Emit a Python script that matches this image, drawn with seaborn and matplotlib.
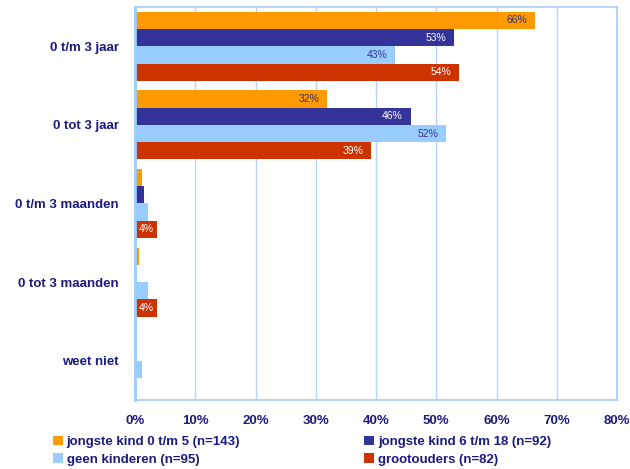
import matplotlib
matplotlib.use("Agg")
import matplotlib.pyplot as plt
import seaborn as sns
import pandas as pd

categories = ["0 t/m 3 jaar", "0 tot 3 jaar", "0 t/m 3 maanden", "0 tot 3 maanden", "weet niet"]
series_names = ["jongste kind 0 t/m 5 (n=143)", "jongste kind 6 t/m 18 (n=92)",
                "geen kinderen (n=95)", "grootouders (n=82)"]
jongste_0_5 = [66.4, 31.9, 1.2, 0.6, 0.0]
jongste_6_18 = [53.0, 45.8, 1.5, 0.0, 0.0]
geen_kinderen = [43.2, 51.7, 2.2, 2.2, 1.2]
grootouders = [53.8, 39.2, 3.6, 3.6, 0.0]
x_ticks = [0, 10, 20, 30, 40, 50, 60, 70, 80]

colors = ["#FF9900", "#333399", "#99CCFF", "#CC3300"]
label_colors = ["#333366", "#FFFFFF", "#333399", "#FFFFFF"]
navy = "#1a1a80"

sns.set_theme(style="white")
plt.rcParams["font.family"] = ["Liberation Sans", "DejaVu Sans"]

rows = []
for name, vals in zip(series_names, [jongste_0_5, jongste_6_18, geen_kinderen, grootouders]):
    for c, v in zip(categories, vals):
        rows.append({"categorie": c, "groep": name, "waarde": v})
df = pd.DataFrame(rows)

fig = plt.figure(figsize=(6.3, 4.69), dpi=100)
ax = fig.add_axes([135 / 630, 1 - 400 / 469, (617 - 135) / 630, (400 - 7) / 469])

sns.barplot(data=df, y="categorie", x="waarde", hue="groep", order=categories,
            hue_order=series_names, palette=colors, saturation=1, width=0.88,
            orient="h", ax=ax, linewidth=0, errorbar=None, gap=0, legend=True)

ax.set_xlim(0, 80)
ax.set_xticks(x_ticks)
ax.set_xticklabels([f"{t}%" for t in x_ticks])
ax.set_xlabel("")
ax.set_ylabel("")
ax.grid(axis="x", color="#b7d5f7", linewidth=1.0)
ax.grid(axis="y", visible=False)
ax.set_axisbelow(True)
for side in ["top", "right", "bottom"]:
    ax.spines[side].set_color("#a9cdf5")
    ax.spines[side].set_linewidth(1.2)
ax.spines["left"].set_color("#99CCFF")
ax.spines["left"].set_linewidth(2.0)

ax.tick_params(axis="x", length=0, pad=11, labelsize=9.5, labelcolor=navy)
ax.tick_params(axis="y", length=0, pad=11.5, labelsize=9.5, labelcolor=navy)
for lab in ax.get_xticklabels() + ax.get_yticklabels():
    lab.set_fontweight("bold")

# value labels
for cont, lc in zip(ax.containers, label_colors):
    for patch in cont:
        w = patch.get_width()
        if w < 3:
            continue
        yc = patch.get_y() + patch.get_height() / 2
        pad = 8 if w >= 10 else 2.5
        ax.annotate(f"{round(w)}%", (w, yc), xytext=(-pad, 0), textcoords="offset pixels",
                    ha="right", va="center", fontsize=7.5, color=lc)

handles, labels = ax.get_legend_handles_labels()
ax.get_legend().remove()

leg_kw = dict(frameon=False, fontsize=9.5, handlelength=0.76, handleheight=0.76,
              handletextpad=0.3, labelspacing=0.38, borderpad=0, borderaxespad=0,
              loc="center left")
l1 = fig.legend([handles[0], handles[2]], [labels[0], labels[2]],
                bbox_to_anchor=(52.7 / 630, 1 - 450.7 / 469), **leg_kw)
l2 = fig.legend([handles[1], handles[3]], [labels[1], labels[3]],
                bbox_to_anchor=(364 / 630, 1 - 450.7 / 469), **leg_kw)
for leg in (l1, l2):
    for t in leg.get_texts():
        t.set_color(navy)
        t.set_fontweight("bold")

fig.savefig("out.png", dpi=100)
